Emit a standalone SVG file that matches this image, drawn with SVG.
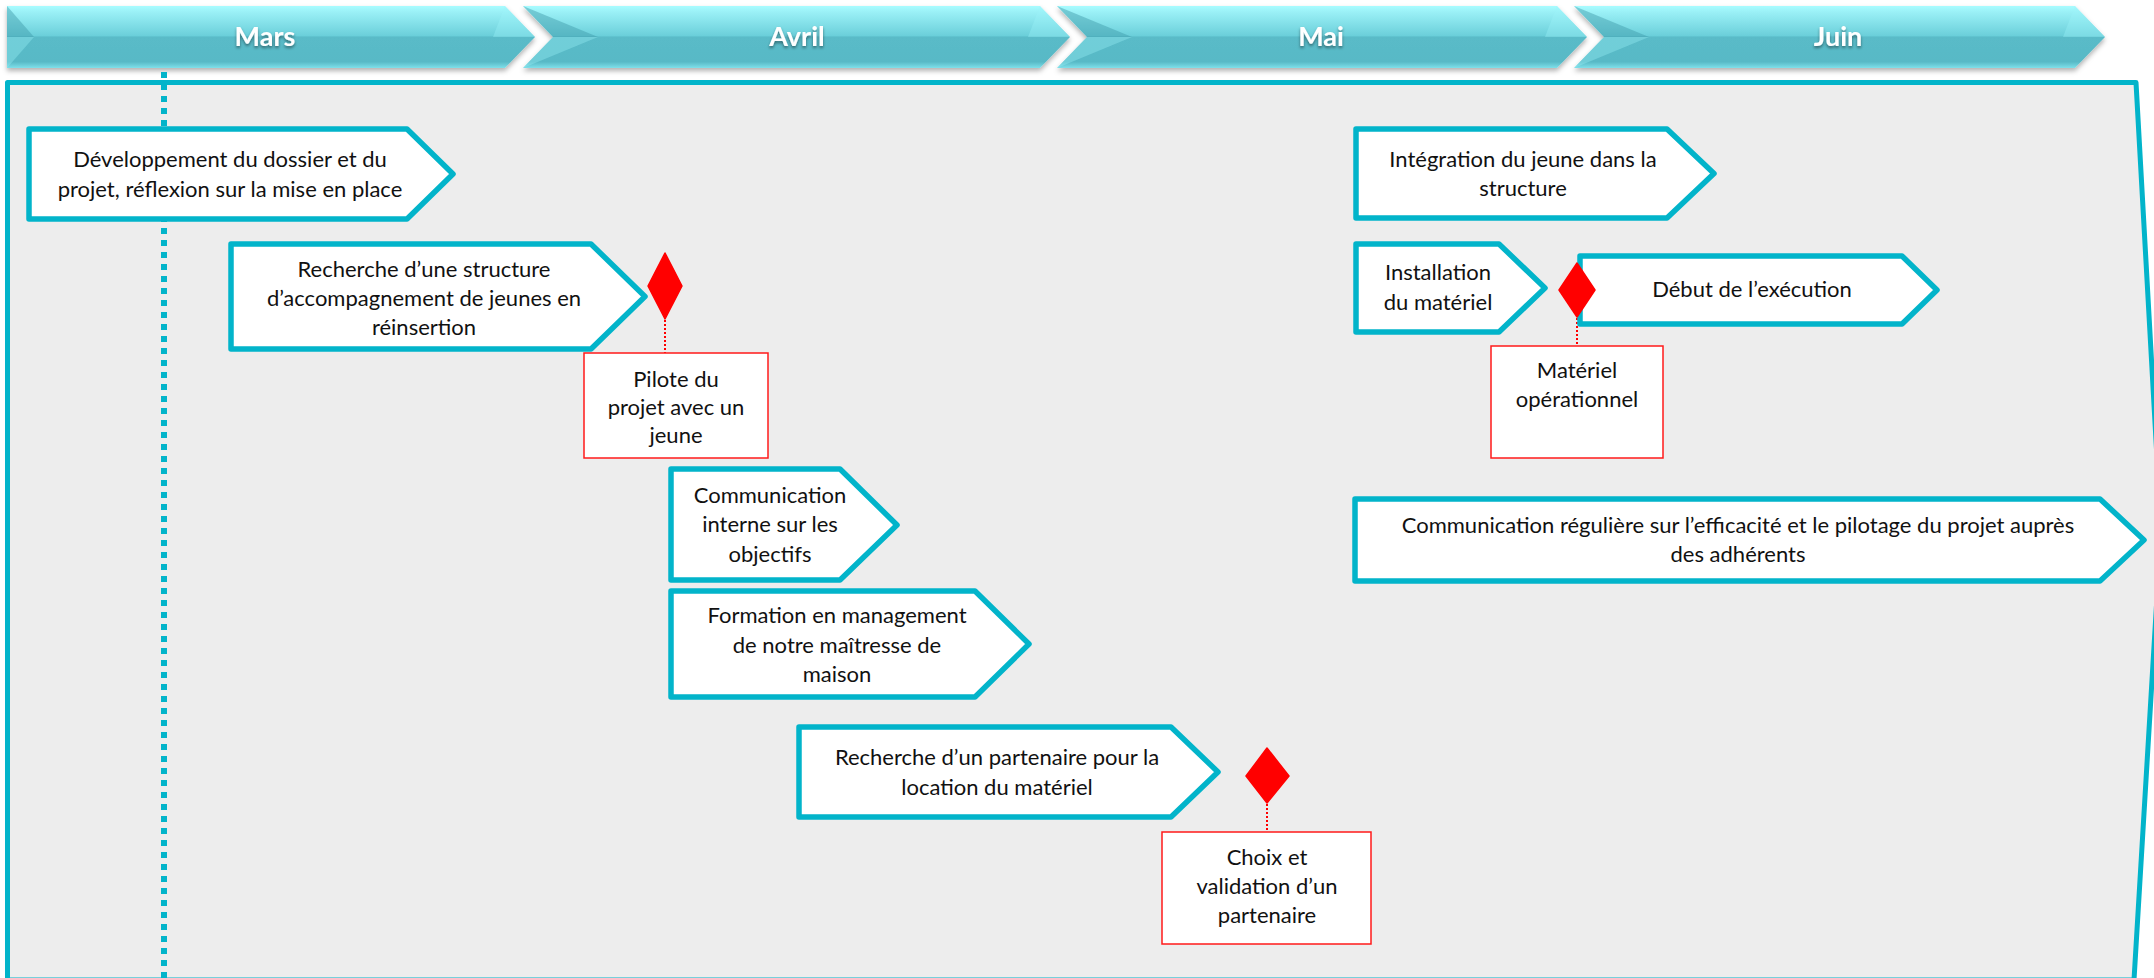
<svg xmlns="http://www.w3.org/2000/svg" width="2154" height="978" viewBox="0 0 2154 978">
<defs>
<linearGradient id="hdr" x1="0" y1="0" x2="0" y2="1">
<stop offset="0" stop-color="#A8FCFF"/>
<stop offset="0.1" stop-color="#9AF0F6"/>
<stop offset="0.48" stop-color="#6BCFDA"/>
<stop offset="0.5" stop-color="#5ABBC8"/>
<stop offset="0.9" stop-color="#58B9C6"/>
<stop offset="1" stop-color="#7EE0EA"/>
</linearGradient>
<filter id="sh" x="-5%" y="-20%" width="110%" height="160%">
<feDropShadow dx="0" dy="3" stdDeviation="2.5" flood-color="#000" flood-opacity="0.3"/>
</filter>
<filter id="tsh" x="-20%" y="-30%" width="140%" height="170%">
<feDropShadow dx="0" dy="2" stdDeviation="1.5" flood-color="#000" flood-opacity="0.45"/>
</filter>
</defs>
<style>
.hdr{fill:url(#hdr);filter:url(#sh)}
.facetD{fill:#3E9AA8;opacity:0.45}
.facetL{fill:#9FF3F9;opacity:0.35}
.htxt{font-family:Lato,"Liberation Sans",sans-serif;font-weight:bold;font-size:27px;fill:#FFFFFF;text-anchor:middle;filter:url(#tsh)}
.task{fill:#FFFFFF;stroke:#02B4CA;stroke-width:5.5;stroke-linejoin:round}
.txt{font-family:Lato,"Liberation Sans",sans-serif;font-size:22px;fill:#111111;text-anchor:middle}
.ms{fill:#FF0000;stroke:#FF0000;stroke-width:1.5;stroke-linejoin:round}
.msbox{fill:#FFFFFF;stroke:#FF1A1A;stroke-width:1.5}
.conn{stroke:#FF0000;stroke-width:2;stroke-dasharray:2 2;fill:none}
</style>
<rect x="0" y="0" width="2154" height="978" fill="#FFFFFF"/>

<g id="header">
<g id="h-mars">
<polygon class="hdr" points="7,6 505,6 535,37 505,68 7,68"/>
<polygon class="facetD" points="7,6 7,37 34,37"/>
<polygon class="facetL" points="7,68 7,37 34,37"/>
<polygon class="facetL" points="505,6 535,37 493,37"/>
<text class="htxt" x="265" y="46">Mars</text>
</g>
<g id="h-avril">
<polygon class="hdr" points="523,6 1040,6 1070,37 1040,68 523,68 553,37"/>
<polygon class="facetD" points="523,6 553,37 598,37"/>
<polygon class="facetL" points="523,68 553,37 598,37"/>
<polygon class="facetL" points="1040,6 1070,37 1028,37"/>
<text class="htxt" x="797" y="46">Avril</text>
</g>
<g id="h-mai">
<polygon class="hdr" points="1057,6 1557,6 1587,37 1557,68 1057,68 1087,37"/>
<polygon class="facetD" points="1057,6 1087,37 1132,37"/>
<polygon class="facetL" points="1057,68 1087,37 1132,37"/>
<polygon class="facetL" points="1557,6 1587,37 1545,37"/>
<text class="htxt" x="1321" y="46">Mai</text>
</g>
<g id="h-juin">
<polygon class="hdr" points="1574,6 2075,6 2105,37 2075,68 1574,68 1604,37"/>
<polygon class="facetD" points="1574,6 1604,37 1649,37"/>
<polygon class="facetL" points="1574,68 1604,37 1649,37"/>
<polygon class="facetL" points="2075,6 2105,37 2063,37"/>
<text class="htxt" x="1838" y="46">Juin</text>
</g>
</g>

<g id="frame">
<polygon points="7.5,82.5 2136,82.5 2161,530 2134,980 7.5,980" fill="#EDEDED" stroke="#02B4CA" stroke-width="5" stroke-linejoin="round"/>
</g>

<g id="today-line">
<line x1="164" y1="72" x2="164" y2="978" stroke="#02B4CA" stroke-width="6" stroke-dasharray="6 6"/>
</g>

<g id="connectors">
<line class="conn" x1="665" y1="320" x2="665" y2="353"/>
<line class="conn" x1="1267" y1="804" x2="1267" y2="832"/>
<line class="conn" x1="1577" y1="318" x2="1577" y2="346"/>
</g>

<g id="t1">
<polygon class="task" points="29,129 407,129 453,174 407,219 29,219"/>
<text class="txt"><tspan x="230" y="167">Développement du dossier et du</tspan><tspan x="230" y="197">projet, réflexion sur la mise en place</tspan></text>
</g>
<g id="t2">
<polygon class="task" points="231,244 591,244 645,296.5 591,349 231,349"/>
<text class="txt"><tspan x="424" y="277">Recherche d’une structure</tspan><tspan x="424" y="306">d’accompagnement de jeunes en</tspan><tspan x="424" y="335">réinsertion</tspan></text>
</g>
<g id="t3">
<polygon class="task" points="671,469 840,469 897,525 840,580 671,580"/>
<text class="txt"><tspan x="770" y="503">Communication</tspan><tspan x="770" y="532">interne sur les</tspan><tspan x="770" y="562">objectifs</tspan></text>
</g>
<g id="t4">
<polygon class="task" points="671,591 975,591 1029,644 975,697 671,697"/>
<text class="txt"><tspan x="837" y="623">Formation en management</tspan><tspan x="837" y="653">de notre maîtresse de</tspan><tspan x="837" y="682">maison</tspan></text>
</g>
<g id="t5">
<polygon class="task" points="799,727 1171,727 1218,772 1171,817 799,817"/>
<text class="txt"><tspan x="997" y="765">Recherche d’un partenaire pour la</tspan><tspan x="997" y="795">location du matériel</tspan></text>
</g>
<g id="t6">
<polygon class="task" points="1356,129 1667,129 1714,173.5 1667,218 1356,218"/>
<text class="txt"><tspan x="1523" y="167">Intégration du jeune dans la</tspan><tspan x="1523" y="196">structure</tspan></text>
</g>
<g id="t7">
<polygon class="task" points="1356,244 1499,244 1545,288 1499,332 1356,332"/>
<text class="txt"><tspan x="1438" y="280">Installation</tspan><tspan x="1438" y="310">du matériel</tspan></text>
</g>
<g id="t8">
<polygon class="task" points="1580,256 1902,256 1937,290 1902,324 1580,324"/>
<text class="txt" x="1752" y="297">Début de l’exécution</text>
</g>
<g id="t9">
<polygon class="task" points="1355,499 2100,499 2144,540 2100,581 1355,581"/>
<text class="txt"><tspan x="1738" y="533">Communication régulière sur l’efficacité et le pilotage du projet auprès</tspan><tspan x="1738" y="562">des adhérents</tspan></text>
</g>

<g id="m1">
<polygon class="ms" points="665,253 682,286 665,319 648,286"/>
<rect class="msbox" x="584" y="353" width="184" height="105"/>
<text class="txt"><tspan x="676" y="387">Pilote du</tspan><tspan x="676" y="415">projet avec un</tspan><tspan x="676" y="443">jeune</tspan></text>
</g>
<g id="m2">
<polygon class="ms" points="1267,748 1289,776 1267,803 1246,776"/>
<rect class="msbox" x="1162" y="832" width="209" height="112"/>
<text class="txt"><tspan x="1267" y="865">Choix et</tspan><tspan x="1267" y="894">validation d’un</tspan><tspan x="1267" y="923">partenaire</tspan></text>
</g>
<g id="m3">
<polygon class="ms" points="1577,263 1595,290 1577,317 1559,290"/>
<rect class="msbox" x="1491" y="346" width="172" height="112"/>
<text class="txt"><tspan x="1577" y="378">Matériel</tspan><tspan x="1577" y="407">opérationnel</tspan></text>
</g>
</svg>
